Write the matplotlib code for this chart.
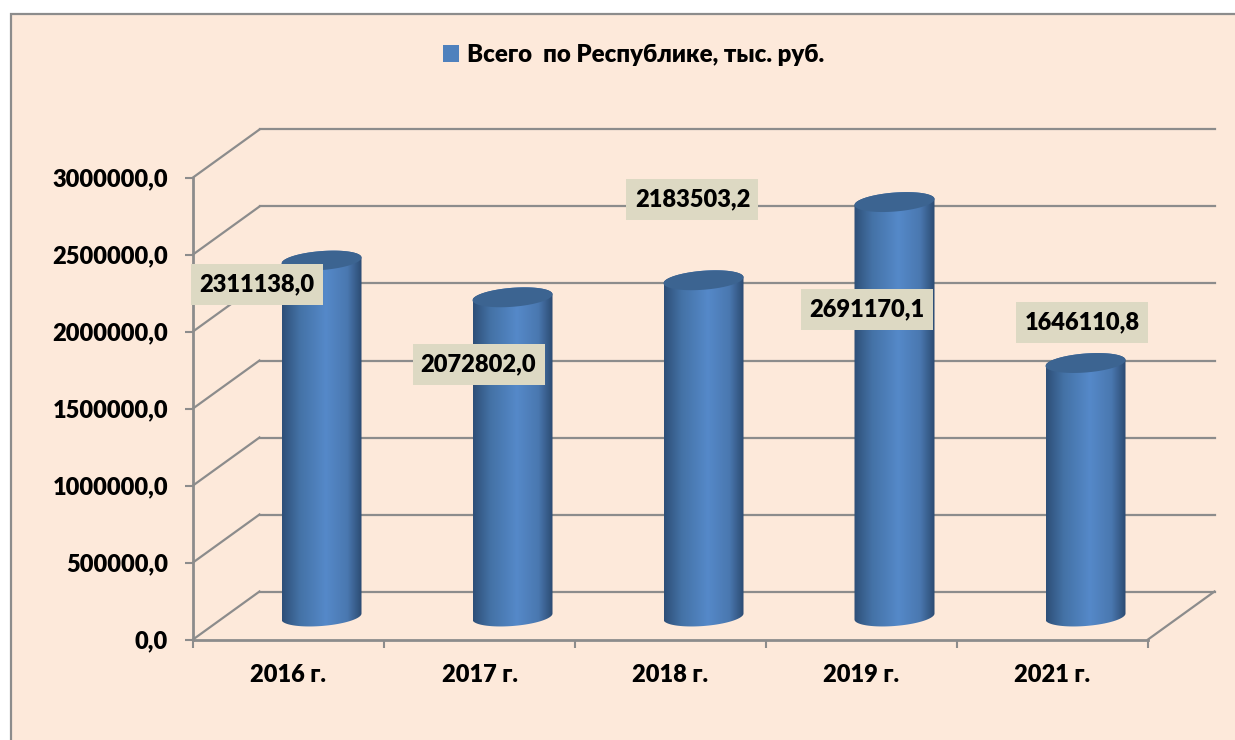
import numpy as np
import matplotlib
matplotlib.use("Agg")
import matplotlib.pyplot as plt
from matplotlib.colors import LinearSegmentedColormap
from matplotlib.patches import Patch, PathPatch, Rectangle
from matplotlib.path import Path

plt.rcParams["font.family"] = ["Lato", "Noto Sans", "DejaVu Sans"]
plt.rcParams["font.weight"] = 800

# data
categories = ["2016 г.", "2017 г.", "2018 г.", "2019 г.", "2021 г."]
values = [2311138.0, 2072802.0, 2183503.2, 2691170.1, 1646110.8]
value_labels = ["2311138,0", "2072802,0", "2183503,2", "2691170,1", "1646110,8"]
y_ticks = [0, 500000, 1000000, 1500000, 2000000, 2500000, 3000000]
y_tick_labels = ["0,0", "500000,0", "1000000,0", "1500000,0", "2000000,0", "2500000,0", "3000000,0"]
legend_label = "Всего  по Республике, тыс. руб."

W, H = 1235, 740
L, R, T, B = 193, 1148, 177.5, 639.5

fig = plt.figure(figsize=(W / 100, H / 100), dpi=100, facecolor="white")
fig.patches.append(Rectangle((10.5 / W, -0.05), 1.2, 1.05 - 14 / H, transform=fig.transFigure,
                             facecolor="#fde9da", edgecolor="#8c8c8c", linewidth=1.6, zorder=-1))

ax = fig.add_axes([L / W, 1 - B / H, (R - L) / W, (B - T) / H])
ax.set_xlim(0, len(categories))
ax.set_ylim(0, 3000000)
ax.patch.set_visible(False)
for s in ax.spines.values():
    s.set_visible(False)

# pixel sizes turned into data units
ux = len(categories) / (R - L)
uy = 3000000 / (B - T)
depth_x = 66.5 * ux
depth_y = 48 * uy

grid = "#8c8c8c"
for v in y_ticks:
    ax.plot([0, depth_x], [v, v + depth_y], color=grid, lw=1.6, clip_on=False, zorder=1)
    ax.plot([depth_x, len(categories) + depth_x], [v + depth_y, v + depth_y],
            color=grid, lw=1.6, clip_on=False, zorder=1)
ax.plot([len(categories), len(categories) + depth_x], [0, depth_y], color=grid, lw=1.6, clip_on=False, zorder=1)
ax.plot([0, len(categories)], [0, 0], color=grid, lw=2, clip_on=False, zorder=2)
ax.plot([0, 0], [0, 3000000], color=grid, lw=2, clip_on=False, zorder=2)

ax.set_yticks(y_ticks, y_tick_labels, fontsize=17)
ax.set_xticks(np.arange(len(categories) + 1), [""] * (len(categories) + 1))
ax.tick_params(axis="y", length=6, width=1.5, color=grid, pad=12)
ax.tick_params(axis="x", length=6, width=1.5, color=grid)
for i, c in enumerate(categories):
    ax.annotate(c, (i + 0.5, 0), xytext=(0, -36 * 0.72), textcoords="offset points",
                ha="center", va="center", fontsize=17)

# cylinders
cmap = LinearSegmentedColormap.from_list(
    "cyl", [(0, "#2e4f78"), (0.22, "#4472a6"), (0.55, "#5589c9"), (0.82, "#4a78b0"), (1, "#2c4b72")])
grad = np.linspace(0, 1, 128).reshape(1, -1)
t = np.linspace(0, 2 * np.pi, 120)
half_w = 40 * ux
off_x = 33 * ux
off_y = 23 * uy
ell_b = 9.5 * uy
ell_k = 3 * uy
for i, v in enumerate(values):
    cx = i + 0.5 + off_x
    base = off_y
    top = v + off_y
    # side outline: lower half of base ellipse and upper half of top ellipse
    lo = np.linspace(np.pi, 2 * np.pi, 60)
    up = np.linspace(0, np.pi, 60)
    xs = np.r_[cx + half_w * np.cos(lo), cx + half_w * np.cos(up)]
    ys = np.r_[base + ell_b * np.sin(lo) + ell_k * np.cos(lo), top + ell_b * np.sin(up) + ell_k * np.cos(up)]
    body = PathPatch(Path(np.c_[xs, ys]), transform=ax.transData, facecolor="none", edgecolor="none")
    ax.add_patch(body)
    im = ax.imshow(grad, cmap=cmap, aspect="auto", zorder=3, clip_on=True,
                   extent=(cx - half_w, cx + half_w, 0, top + 2 * ell_b))
    im.set_clip_path(body)
    ax.fill(cx + half_w * np.cos(t), top + ell_b * np.sin(t) + ell_k * np.cos(t),
            color="#3c6491", lw=0, zorder=4)
ax.set_xlim(0, len(categories))
ax.set_ylim(0, 3000000)

# value labels, offsets from the column top in pixels
label_dx = [-64.5, -34, -11, -27.5, -3.5]
label_dy = [-24, -67, 80.7, -107.5, 40.5]
for i, (v, s) in enumerate(zip(values, value_labels)):
    cx = i + 0.5 + off_x
    x = cx + label_dx[i] * ux
    y = v + off_y + label_dy[i] * uy
    box_w, box_h = 132 * ux, 41 * uy
    ax.add_patch(Rectangle((x - box_w / 2, y - box_h / 2), box_w, box_h, facecolor="#ddd9c3",
                           edgecolor="none", zorder=5, clip_on=False))
    ax.text(x, y, s, ha="center", va="center", fontsize=17, zorder=6)

fig.legend(handles=[Patch(facecolor="#4f81bd", edgecolor="none", label=legend_label)],
           loc="center", bbox_to_anchor=(633.5 / W, 1 - 55 / H), frameon=False, fontsize=17.3,
           handlelength=0.68, handleheight=0.68, handletextpad=0.3)

fig.savefig("out.png", dpi=100, facecolor="white")
